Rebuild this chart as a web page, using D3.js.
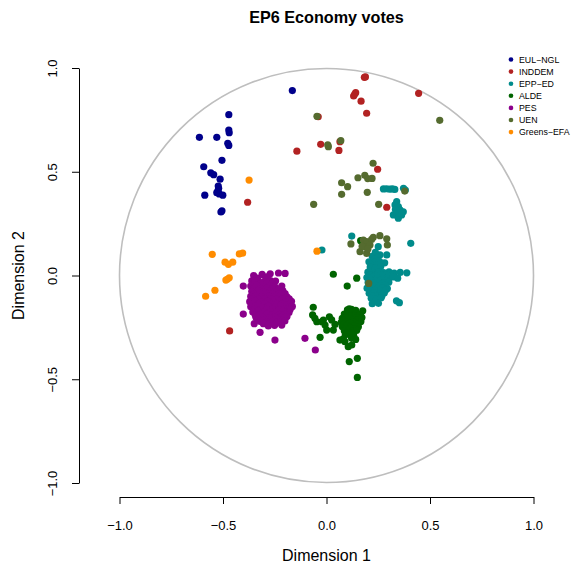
<!DOCTYPE html>
<html>
<head>
<meta charset="utf-8">
<script src="https://cdn.jsdelivr.net/npm/d3@7/dist/d3.min.js"></script>
<style>
  html, body { margin: 0; padding: 0; background: #ffffff; }
  svg { display: block; font-family: "Liberation Sans", Arial, Helvetica, sans-serif; }
</style>
</head>
<body>
<svg id="chart" width="574" height="569"></svg>
<script>
// Party groups, in legend order, with their colours
const groups = ["EUL−NGL", "INDDEM", "EPP−ED", "ALDE", "PES", "UEN", "Greens−EFA"];
const groupColors = ["#00008B", "#B22222", "#008B8B", "#006400", "#8B008B", "#556B2F", "#FF8C00"];

// MEP coordinates [dimension 1, dimension 2] per group
const eulNgl = [
  [-0.165, 0.891], [-0.472, 0.775], [-0.472, 0.701], [-0.470, 0.688], [-0.614, 0.666],
  [-0.530, 0.666], [-0.477, 0.637], [-0.472, 0.627], [-0.505, 0.555], [-0.593, 0.524],
  [-0.559, 0.495], [-0.545, 0.486], [-0.514, 0.464], [-0.523, 0.431], [-0.521, 0.420],
  [-0.530, 0.399], [-0.518, 0.393], [-0.501, 0.387], [-0.588, 0.387], [-0.510, 0.306],
  [-0.505, 0.312], [-0.524, 0.409]
];
const inddem = [
  [0.183, 0.955], [0.188, 0.957], [0.141, 0.881], [0.131, 0.865], [0.136, 0.873],
  [0.167, 0.840], [0.445, 0.878], [0.194, 0.782], [-0.040, 0.765], [-0.028, 0.632],
  [0.065, 0.645], [0.060, 0.603], [-0.143, 0.599], [0.247, 0.512], [0.291, 0.329],
  [-0.381, 0.353], [-0.468, -0.267]
];
const eppEd = [
  // upper group
  [0.275, 0.417], [0.290, 0.418], [0.305, 0.416], [0.318, 0.417], [0.330, 0.415],
  [0.372, 0.420], [0.339, 0.356], [0.331, 0.340], [0.347, 0.332], [0.355, 0.316],
  [0.323, 0.292], [0.347, 0.276], [0.363, 0.292], [0.371, 0.307], [0.339, 0.307],
  [0.352, 0.300], [0.333, 0.318], [0.381, 0.412],
  // scattered
  [0.250, 0.139], [0.291, 0.099], [0.258, 0.099], [0.407, 0.155], [0.122, 0.190],
  [-0.022, 0.123], [0.236, 0.112], [0.352, -0.131], [0.338, -0.122],
  // main body
  [0.221, 0.092], [0.246, 0.088], [0.232, 0.078],
  [0.205, 0.066], [0.232, 0.063], [0.256, 0.068], [0.281, 0.061],
  [0.220, 0.053], [0.245, 0.052],
  [0.211, 0.041], [0.236, 0.037], [0.262, 0.043],
  [0.200, 0.016], [0.226, 0.013], [0.251, 0.018], [0.276, 0.014], [0.302, 0.017],
  [0.327, 0.012], [0.356, 0.015], [0.388, 0.013],
  [0.210, 0.003], [0.238, 0.001], [0.263, 0.004], [0.288, 0.002],
  [0.195, -0.010], [0.221, -0.008], [0.246, -0.012], [0.271, -0.009], [0.296, -0.011],
  [0.322, -0.007], [0.344, -0.013],
  [0.213, -0.022], [0.238, -0.024], [0.263, -0.021], [0.288, -0.023],
  [0.201, -0.034], [0.226, -0.037], [0.251, -0.033], [0.276, -0.036], [0.301, -0.032],
  [0.210, -0.048], [0.236, -0.047], [0.262, -0.049], [0.286, -0.046],
  [0.196, -0.061], [0.221, -0.058], [0.246, -0.062], [0.271, -0.059], [0.294, -0.063],
  [0.210, -0.073], [0.235, -0.072], [0.260, -0.074], [0.285, -0.071],
  [0.206, -0.086], [0.231, -0.083], [0.256, -0.088], [0.279, -0.084],
  [0.218, -0.098], [0.243, -0.097], [0.268, -0.097],
  [0.216, -0.110], [0.241, -0.112], [0.264, -0.107],
  [0.221, -0.136], [0.251, -0.134]
];
const alde = [
  // left chain
  [-0.064, -0.153], [-0.067, -0.190], [-0.056, -0.206], [-0.047, -0.223], [-0.023, -0.223],
  [-0.007, -0.239], [0.014, -0.199], [0.025, -0.214], [0.001, -0.263], [0.033, -0.263],
  [-0.031, -0.298], [0.065, -0.311], [0.089, -0.319], [0.105, -0.343], [0.122, -0.335],
  [0.110, -0.415], [0.149, -0.399], [0.149, -0.491], [0.175, -0.170], [0.100, -0.051],
  [0.146, -0.013], [0.033, 0.006], [0.165, 0.168], [0.110, -0.161], [0.041, -0.236],
  [-0.015, -0.215],
  // dense core
  [0.101, -0.166], [0.121, -0.163], [0.141, -0.168],
  [0.111, -0.176], [0.131, -0.176],
  [0.086, -0.186], [0.106, -0.183], [0.126, -0.188], [0.146, -0.184], [0.164, -0.187],
  [0.096, -0.196], [0.116, -0.196], [0.136, -0.195], [0.156, -0.195],
  [0.076, -0.206], [0.096, -0.203], [0.116, -0.208], [0.136, -0.204], [0.155, -0.207],
  [0.171, -0.203],
  [0.086, -0.216], [0.106, -0.215], [0.126, -0.216], [0.146, -0.215],
  [0.071, -0.226], [0.091, -0.223], [0.111, -0.228], [0.131, -0.224], [0.151, -0.227],
  [0.166, -0.222],
  [0.086, -0.236], [0.106, -0.235], [0.126, -0.236], [0.146, -0.235],
  [0.076, -0.246], [0.096, -0.243], [0.116, -0.248], [0.136, -0.244], [0.154, -0.247],
  [0.096, -0.256], [0.116, -0.255], [0.136, -0.256],
  [0.086, -0.266], [0.106, -0.263], [0.126, -0.268], [0.146, -0.264],
  [0.101, -0.276], [0.121, -0.275],
  [0.091, -0.286], [0.111, -0.283], [0.131, -0.288],
  [0.081, -0.305], [0.121, -0.303], [0.141, -0.308]
];
const pes = [
  // outlying members
  [-0.402, -0.051], [-0.402, -0.186], [-0.321, -0.274], [-0.249, -0.311], [-0.349, -0.232],
  [-0.216, -0.239], [-0.104, -0.303], [-0.054, -0.359], [-0.216, -0.051],
  // top edge
  [-0.352, 0.000], [-0.311, 0.005], [-0.272, 0.008], [-0.232, 0.012], [-0.200, 0.010],
  [-0.335, -0.012], [-0.290, -0.006],
  // body
  [-0.361, -0.026], [-0.331, -0.022], [-0.301, -0.028], [-0.271, -0.024], [-0.246, -0.027],
  [-0.350, -0.038], [-0.320, -0.039], [-0.290, -0.037], [-0.260, -0.038],
  [-0.366, -0.051], [-0.336, -0.048], [-0.306, -0.053], [-0.276, -0.049], [-0.251, -0.052],
  [-0.350, -0.063], [-0.320, -0.064], [-0.290, -0.062], [-0.260, -0.063], [-0.230, -0.064],
  [-0.361, -0.076], [-0.331, -0.073], [-0.301, -0.078], [-0.271, -0.074], [-0.241, -0.077],
  [-0.211, -0.073],
  [-0.350, -0.088], [-0.320, -0.089], [-0.290, -0.087], [-0.260, -0.088], [-0.230, -0.089],
  [-0.200, -0.087],
  [-0.366, -0.101], [-0.341, -0.098], [-0.311, -0.103], [-0.281, -0.099], [-0.251, -0.102],
  [-0.221, -0.098], [-0.191, -0.103],
  [-0.355, -0.113], [-0.330, -0.114], [-0.300, -0.112], [-0.270, -0.113], [-0.240, -0.114],
  [-0.210, -0.112], [-0.180, -0.113],
  [-0.371, -0.126], [-0.346, -0.123], [-0.316, -0.128], [-0.286, -0.124], [-0.256, -0.127],
  [-0.226, -0.123], [-0.196, -0.128], [-0.169, -0.124],
  [-0.355, -0.138], [-0.330, -0.139], [-0.300, -0.137], [-0.270, -0.138], [-0.240, -0.139],
  [-0.210, -0.137], [-0.180, -0.138],
  [-0.366, -0.151], [-0.341, -0.148], [-0.311, -0.153], [-0.281, -0.149], [-0.251, -0.152],
  [-0.221, -0.148], [-0.191, -0.153], [-0.165, -0.149],
  [-0.350, -0.163], [-0.320, -0.164], [-0.290, -0.162], [-0.260, -0.163], [-0.230, -0.164],
  [-0.200, -0.162], [-0.175, -0.163],
  [-0.356, -0.176], [-0.331, -0.173], [-0.301, -0.178], [-0.271, -0.174], [-0.241, -0.177],
  [-0.211, -0.173], [-0.181, -0.178],
  [-0.345, -0.188], [-0.320, -0.189], [-0.290, -0.187], [-0.260, -0.188], [-0.230, -0.189],
  [-0.200, -0.187],
  [-0.341, -0.201], [-0.311, -0.198], [-0.281, -0.203], [-0.251, -0.199], [-0.221, -0.202],
  [-0.191, -0.198],
  [-0.330, -0.211], [-0.300, -0.212], [-0.270, -0.210], [-0.240, -0.211], [-0.210, -0.212],
  [-0.321, -0.221], [-0.291, -0.224], [-0.261, -0.220], [-0.231, -0.223], [-0.201, -0.219],
  [-0.305, -0.232], [-0.275, -0.233], [-0.245, -0.231],
  [-0.281, -0.243], [-0.251, -0.240]
];
const uen = [
  [-0.046, 0.767], [0.006, 0.630], [0.009, 0.621], [0.069, 0.650], [0.547, 0.748],
  [0.225, 0.541], [0.073, 0.447], [0.102, 0.428], [0.152, 0.471], [0.185, 0.483],
  [0.199, 0.467], [0.220, 0.468], [0.073, 0.391], [0.197, 0.401], [0.378, 0.407],
  [-0.062, 0.343], [0.252, 0.343],
  [0.178, 0.171], [0.194, 0.163], [0.218, 0.174], [0.258, 0.192], [0.291, 0.177],
  [0.294, 0.147], [0.118, 0.152], [0.162, 0.115], [0.194, 0.107], [0.186, 0.139],
  [0.210, 0.147], [0.226, 0.184], [0.204, -0.038], [0.172, 0.140], [0.200, 0.128]
];
const greensEfa = [
  [-0.374, 0.460], [-0.552, 0.102], [-0.421, 0.104], [-0.405, 0.108], [-0.490, 0.064],
  [-0.474, 0.054], [-0.453, 0.064], [-0.479, -0.018], [-0.470, -0.011], [-0.486, -0.022],
  [-0.539, -0.071], [-0.584, -0.100], [-0.046, 0.117]
];

const groupPoints = [eulNgl, inddem, eppEd, alde, pes, uen, greensEfa];
// Drawing order so that smaller groups sit on top of the big blocs
const drawOrder = [2, 4, 3, 0, 1, 5, 6];

const axisTicks = [-1.0, -0.5, 0.0, 0.5, 1.0];
const chartTitle = "EP6 Economy votes";
const xLabel = "Dimension 1";
const yLabel = "Dimension 2";

const svg = d3.select("#chart");
const x = d3.scaleLinear().domain([-1, 1]).range([119.5, 533.5]);
const y = d3.scaleLinear().domain([-1, 1]).range([483, 68]);

// Unit circle
svg.append("circle")
  .attr("cx", x(0)).attr("cy", y(0))
  .attr("r", x(1) - x(0))
  .attr("fill", "none")
  .attr("stroke", "#BEBEBE")
  .attr("stroke-width", 1.6);

// Points
drawOrder.forEach(gi => {
  svg.append("g").selectAll("circle")
    .data(groupPoints[gi])
    .join("circle")
    .attr("cx", d => x(d[0]))
    .attr("cy", d => y(d[1]))
    .attr("r", 3.6)
    .attr("fill", groupColors[gi]);
});

// Axes
const fmt = d3.format(".1f");
const xAxis = svg.append("g")
  .attr("transform", "translate(0,497)")
  .call(d3.axisBottom(x).tickValues(axisTicks).tickFormat(fmt).tickSize(7).tickSizeOuter(0));
xAxis.selectAll("text")
  .attr("y", 23.5).attr("dy", "0.71em")
  .attr("font-size", 13).attr("fill", "#000");

const yAxis = svg.append("g")
  .attr("transform", "translate(79,0)")
  .call(d3.axisLeft(y).tickValues(axisTicks).tickFormat(fmt).tickSize(7).tickSizeOuter(0));
yAxis.selectAll("text")
  .attr("x", 0).attr("y", -22).attr("dy", null)
  .attr("text-anchor", "middle")
  .attr("transform", "rotate(-90)")
  .attr("font-size", 13).attr("fill", "#000");

[xAxis, yAxis].forEach(a => {
  a.attr("font-family", null);
  a.selectAll("path, line").attr("stroke", "#000").attr("stroke-width", 1);
});

// Titles
svg.append("text")
  .attr("x", x(0)).attr("y", 22.5)
  .attr("text-anchor", "middle")
  .attr("font-size", 16.2).attr("font-weight", "bold")
  .text(chartTitle);

svg.append("text")
  .attr("x", x(0)).attr("y", 561)
  .attr("text-anchor", "middle")
  .attr("font-size", 16)
  .text(xLabel);

svg.append("text")
  .attr("transform", `translate(24,${y(0)}) rotate(-90)`)
  .attr("text-anchor", "middle")
  .attr("font-size", 16)
  .text(yLabel);

// Legend
const legend = svg.append("g").attr("transform", "translate(511,59.5)");
const rows = legend.selectAll("g")
  .data(groups)
  .join("g")
  .attr("transform", (d, i) => `translate(0,${i * 12.1})`);
rows.append("circle")
  .attr("r", 2.3)
  .attr("fill", (d, i) => groupColors[i]);
rows.append("text")
  .attr("x", 8).attr("y", 3)
  .attr("font-size", 8.8)
  .text(d => d);
</script>
</body>
</html>
